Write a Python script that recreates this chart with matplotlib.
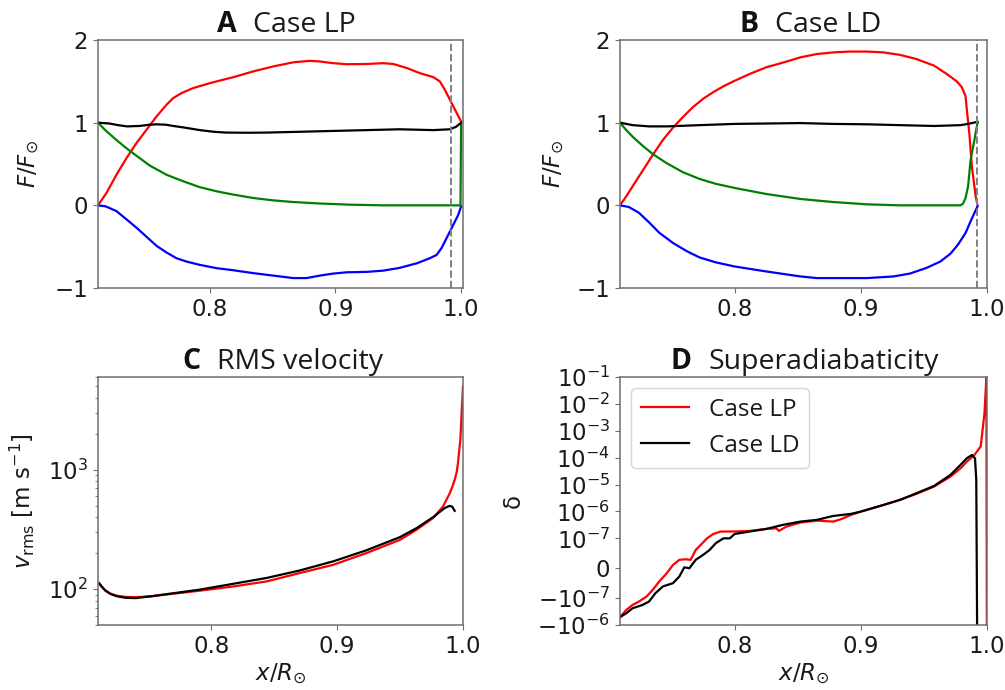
import numpy as np
import matplotlib
matplotlib.use("Agg")
import matplotlib.pyplot as plt
from matplotlib.ticker import NullLocator

# ---------------- data ----------------
# Case LP: flux components (F / F_sun) vs x / R_sun
lp_enth_x = [0.711, 0.7177, 0.7257, 0.7337, 0.7416, 0.7496, 0.7576, 0.7655, 0.7708, 0.7774,
             0.7867, 0.800, 0.8186, 0.8345, 0.8504, 0.8664, 0.8796, 0.8876, 0.898, 0.909,
             0.925, 0.938, 0.946, 0.957, 0.967, 0.978, 0.983, 0.987, 0.991, 0.995,
             0.9986, 1.000]
lp_enth_y = [0.0, 0.149, 0.37, 0.572, 0.753, 0.914, 1.075, 1.216, 1.297, 1.357,
             1.418, 1.478, 1.55, 1.62, 1.68, 1.73, 1.748, 1.74, 1.72, 1.707,
             1.71, 1.72, 1.71, 1.66, 1.60, 1.55, 1.50, 1.40, 1.28, 1.16,
             1.055, 1.015]
lp_kin_x = [0.711, 0.717, 0.7257, 0.7337, 0.7416, 0.7496, 0.7576, 0.7655, 0.7735, 0.7814,
            0.792, 0.8053, 0.8186, 0.8345, 0.8504, 0.8664, 0.877, 0.8876, 0.898, 0.909,
            0.925, 0.938, 0.951, 0.965, 0.975, 0.9805, 0.9845, 0.9885, 0.9938, 0.9978,
            1.000]
lp_kin_y = [0.0, -0.012, -0.07, -0.17, -0.27, -0.38, -0.49, -0.57, -0.64, -0.68,
            -0.72, -0.76, -0.785, -0.82, -0.85, -0.88, -0.88, -0.85, -0.826, -0.81,
            -0.805, -0.79, -0.757, -0.70, -0.64, -0.60, -0.515, -0.395, -0.234, -0.113,
            -0.012]
lp_rad_x = [0.711, 0.717, 0.7257, 0.7337, 0.7416, 0.752, 0.7655, 0.779, 0.792, 0.8053,
            0.8186, 0.8345, 0.8504, 0.8664, 0.885, 0.911, 0.938, 0.9995, 1.000]
lp_rad_y = [1.0, 0.906, 0.79, 0.69, 0.60, 0.483, 0.37, 0.29, 0.22, 0.17,
            0.13, 0.089, 0.06, 0.04, 0.024, 0.008, 0.0, 0.0, 1.0]
lp_tot_x = [0.711, 0.720, 0.727, 0.734, 0.744, 0.752, 0.758, 0.765, 0.771, 0.780, 0.792,
            0.803, 0.813, 0.830, 0.845, 0.872, 0.898, 0.925, 0.951, 0.978, 0.991,
            0.996, 1.000]
lp_tot_y = [1.0, 0.99, 0.97, 0.955, 0.96, 0.975, 0.98, 0.975, 0.96, 0.94, 0.91,
            0.89, 0.88, 0.878, 0.88, 0.89, 0.90, 0.91, 0.92, 0.91, 0.92,
            0.95, 1.0]

# Case LD: flux components
ld_enth_x = [0.709, 0.714, 0.719, 0.727, 0.735, 0.743, 0.751, 0.759, 0.767, 0.775,
             0.783, 0.791, 0.799, 0.812, 0.825, 0.839, 0.852, 0.865, 0.878, 0.891,
             0.905, 0.918, 0.931, 0.944, 0.958, 0.968, 0.976, 0.980, 0.983, 0.984,
             0.986, 0.988, 0.991, 0.9925]
ld_enth_y = [0.0, 0.11, 0.23, 0.42, 0.61, 0.79, 0.94, 1.07, 1.19, 1.29,
             1.37, 1.44, 1.50, 1.59, 1.67, 1.73, 1.79, 1.83, 1.85, 1.86,
             1.86, 1.85, 1.82, 1.77, 1.69, 1.59, 1.50, 1.43, 1.32, 1.16,
             0.87, 0.47, 0.11, 0.0]
ld_kin_x = [0.709, 0.716, 0.724, 0.732, 0.740, 0.751, 0.762, 0.772, 0.785, 0.800,
            0.825, 0.852, 0.865, 0.905, 0.926, 0.939, 0.952, 0.963, 0.971, 0.977,
            0.983, 0.987, 0.990, 0.9925]
ld_kin_y = [0.0, -0.02, -0.09, -0.205, -0.33, -0.455, -0.555, -0.63, -0.69, -0.74,
            -0.80, -0.86, -0.88, -0.88, -0.86, -0.825, -0.757, -0.68, -0.585, -0.475,
            -0.334, -0.193, -0.093, -0.012]
ld_rad_x = [0.709, 0.714, 0.719, 0.727, 0.735, 0.746, 0.759, 0.772, 0.785, 0.800,
            0.825, 0.852, 0.878, 0.905, 0.931, 0.979, 0.981, 0.983, 0.985, 0.987,
            0.990, 0.9925]
ld_rad_y = [1.0, 0.91, 0.83, 0.72, 0.62, 0.51, 0.40, 0.32, 0.26, 0.21,
            0.137, 0.077, 0.04, 0.012, 0.0, 0.0, 0.02, 0.09, 0.23, 0.55,
            0.79, 1.0]
ld_tot_x = [0.709, 0.719, 0.732, 0.746, 0.772, 0.800, 0.852, 0.878, 0.905, 0.931, 0.958,
            0.979, 0.985, 0.9925]
ld_tot_y = [1.0, 0.97, 0.955, 0.955, 0.97, 0.985, 0.995, 0.985, 0.98, 0.97, 0.96,
            0.97, 0.985, 1.01]

# Photospheric radius marker
x_photo = 0.992

# RMS velocity [m/s]
vrms_lp_x = [0.711, 0.713, 0.716, 0.720, 0.725, 0.732, 0.740, 0.752, 0.764, 0.791, 0.817,
             0.844, 0.870, 0.897, 0.923, 0.950, 0.963, 0.9762, 0.9841, 0.9894, 0.9915,
             0.9934, 0.995, 0.996, 0.9979, 0.9989, 1.000]
vrms_lp_y = [111, 104, 97, 91.5, 88, 86, 85.5, 87, 90, 97, 105,
             116, 136, 160, 200, 259, 314, 394, 493, 633, 720,
             824, 960, 1137, 1790, 2960, 5000]
vrms_ld_x = [0.711, 0.713, 0.716, 0.720, 0.725, 0.732, 0.740, 0.752, 0.791, 0.844, 0.870,
             0.897, 0.923, 0.950, 0.963, 0.977, 0.9854, 0.9894, 0.9915, 0.9934]
vrms_ld_y = [112, 105, 97, 91, 87, 84.5, 84, 87, 99, 124, 143,
             171, 211, 273, 324, 406, 478, 499, 490, 453]

# Superadiabaticity delta
delta_lp_x = [0.709, 0.714, 0.719, 0.724, 0.730, 0.735, 0.740, 0.746, 0.751, 0.756, 0.761,
              0.765, 0.769, 0.773, 0.778, 0.783, 0.789, 0.800, 0.812, 0.825, 0.833, 0.835,
              0.841, 0.852, 0.865, 0.878, 0.884, 0.892, 0.900, 0.918, 0.931, 0.944, 0.958,
              0.971, 0.979, 0.984, 0.990, 0.995, 0.9965, 0.998, 0.9995, 1.000]
delta_lp_y = [-5.1e-7, -2.75e-7, -1.79e-7, -1.34e-7, -9.5e-8, -7.2e-8, -4.5e-8, -1.7e-8,
              1.1e-8, 2.8e-8, 3.0e-8, 2.8e-8, 6.1e-8, 7.8e-8, 1.0e-7, 1.46e-7, 1.79e-7,
              1.8e-7, 1.89e-7, 2.24e-7, 2.36e-7, 1.89e-7, 2.74e-7, 3.87e-7, 4.58e-7, 4.2e-7,
              5.1e-7, 7.4e-7, 9.9e-7, 1.75e-6, 2.7e-6, 4.5e-6, 8.4e-6, 1.98e-5, 4.0e-5,
              7.1e-5, 1.26e-4, 2.6e-4, 1.07e-3, 4.5e-3, 9.5e-2, -1e-3]
delta_ld_x = [0.709, 0.714, 0.719, 0.727, 0.732, 0.737, 0.743, 0.751, 0.756, 0.760, 0.764,
              0.769, 0.775, 0.780, 0.785, 0.791, 0.796, 0.800, 0.812, 0.825, 0.838, 0.852,
              0.865, 0.878, 0.892, 0.900, 0.918, 0.931, 0.944, 0.958, 0.971, 0.979, 0.984,
              0.988, 0.9905, 0.9915, 0.9925]
delta_ld_y = [-5.1e-7, -3.65e-7, -2.38e-7, -1.79e-7, -1.34e-7, -8.4e-8, -6.1e-8, -5.0e-8,
              -2.8e-8, 3e-9, 0.0, 2.8e-8, 4.5e-8, 6.1e-8, 8.4e-8, 1.0e-7, 1.0e-7, 1.46e-7,
              1.8e-7, 2.24e-7, 3.16e-7, 4.2e-7, 4.85e-7, 6.8e-7, 8.1e-7, 9.9e-7, 1.75e-6,
              2.7e-6, 4.75e-6, 8.9e-6, 2.28e-5, 5.4e-5, 9.5e-5, 1.26e-4, 9.5e-5, 1.49e-5,
              -1e-3]

delta_ticks = [1e-1, 1e-2, 1e-3, 1e-4, 1e-5, 1e-6, 1e-7, 0, -1e-7, -1e-6]

# ---------------- style ----------------
plt.rcParams.update({
    "font.size": 16.5,
    "axes.edgecolor": "#6e6e6e",
    "axes.linewidth": 1.1,
    "xtick.color": "#6e6e6e",
    "ytick.color": "#6e6e6e",
    "xtick.labelcolor": "#1a1a1a",
    "ytick.labelcolor": "#1a1a1a",
    "xtick.labelsize": 16.5,
    "ytick.labelsize": 16.5,
    "axes.labelcolor": "#1a1a1a",
    "lines.solid_joinstyle": "round",
})

TITLE_FONT = ["Open Sans", "DejaVu Sans"]

fig = plt.figure(figsize=(10.05, 6.9), dpi=100)
axA = fig.add_axes([98 / 1005, 1 - 288 / 690, 365 / 1005, 248 / 690])
axB = fig.add_axes([620 / 1005, 1 - 288 / 690, 367 / 1005, 248 / 690])
axC = fig.add_axes([98 / 1005, 1 - 625 / 690, 365 / 1005, 248 / 690])
axD = fig.add_axes([620 / 1005, 1 - 625 / 690, 367 / 1005, 248 / 690])


def panel_title(ax, letter, text, xfrac):
    t = ax.annotate(text, xy=(xfrac, 1.0), xycoords="axes fraction",
                    xytext=(0, 6), textcoords="offset points",
                    ha="left", va="baseline", fontsize=20.5,
                    family=TITLE_FONT, color="#1a1a1a")
    ax.annotate(letter, xy=(0, 0), xycoords=t, xytext=(-12, 0),
                textcoords="offset points", ha="right", va="bottom",
                fontsize=20.5, fontweight="bold", family=TITLE_FONT,
                color="#111111")


lw = 1.6

# Panel A
axA.plot(lp_enth_x, lp_enth_y, color="r", lw=lw)
axA.plot(lp_kin_x, lp_kin_y, color="b", lw=lw)
axA.plot(lp_rad_x, lp_rad_y, color="g", lw=lw)
axA.plot(lp_tot_x, lp_tot_y, color="k", lw=lw)
axA.axvline(x_photo, color="#808080", ls="--", lw=1.4)
axA.set_xlim(0.711, 1.0015)
axA.set_ylim(-1, 2)
axA.set_yticks([-1, 0, 1, 2])
axA.set_ylabel(r"$F/F_{\odot}$")
axA.yaxis.set_label_coords(-0.153, 0.5)
panel_title(axA, "A", "Case LP", 0.425)

# Panel B
axB.plot(ld_enth_x, ld_enth_y, color="r", lw=lw)
axB.plot(ld_kin_x, ld_kin_y, color="b", lw=lw)
axB.plot(ld_rad_x, ld_rad_y, color="g", lw=lw)
axB.plot(ld_tot_x, ld_tot_y, color="k", lw=lw)
axB.axvline(x_photo, color="#808080", ls="--", lw=1.4)
axB.set_xlim(0.709, 1.0)
axB.set_ylim(-1, 2)
axB.set_yticks([-1, 0, 1, 2])
axB.set_ylabel(r"$F/F_{\odot}$")
axB.yaxis.set_label_coords(-0.144, 0.5)
panel_title(axB, "B", "Case LD", 0.422)

# Panel C
axC.plot(vrms_lp_x, vrms_lp_y, color="r", lw=lw)
axC.plot(vrms_ld_x, vrms_ld_y, color="k", lw=lw)
axC.set_yscale("log")
axC.set_xlim(0.710, 1.0)
axC.set_ylim(50, 6000)
axC.set_ylabel(r"$v_{\rm rms}$ [m s$^{-1}$]")
axC.yaxis.set_label_coords(-0.167, 0.5)
axC.set_xlabel(r"$x/R_{\odot}$")
axC.xaxis.set_label_coords(0.5, -0.15)
panel_title(axC, "C", "RMS velocity", 0.326)

# Panel D
axD.plot(delta_lp_x, delta_lp_y, color="r", lw=lw, label="Case LP")
axD.plot(delta_ld_x, delta_ld_y, color="k", lw=lw, label="Case LD")
axD.set_yscale("symlog", linthresh=1e-7)
axD.set_xlim(0.709, 1.0)
axD.set_ylim(-1e-6, 1e-1)
axD.set_yticks(delta_ticks)
axD.yaxis.set_minor_locator(NullLocator())
axD.set_ylabel("δ")
axD.yaxis.set_label_coords(-0.259, 0.5)
axD.set_xlabel(r"$x/R_{\odot}$")
axD.xaxis.set_label_coords(0.5, -0.15)
leg = axD.legend(loc="upper left", prop={"family": TITLE_FONT, "size": 17.5},
                 bbox_to_anchor=(0.01, 0.985), borderaxespad=0.3,
                 handlelength=2.0, framealpha=0.8, edgecolor="#cccccc")
for t in leg.get_texts():
    t.set_color("#1a1a1a")
panel_title(axD, "D", "Superadiabaticity", 0.24)

for ax in (axA, axB, axC, axD):
    ax.set_xticks([0.8, 0.9, 1.0])

fig.savefig("out.png", dpi=100)
